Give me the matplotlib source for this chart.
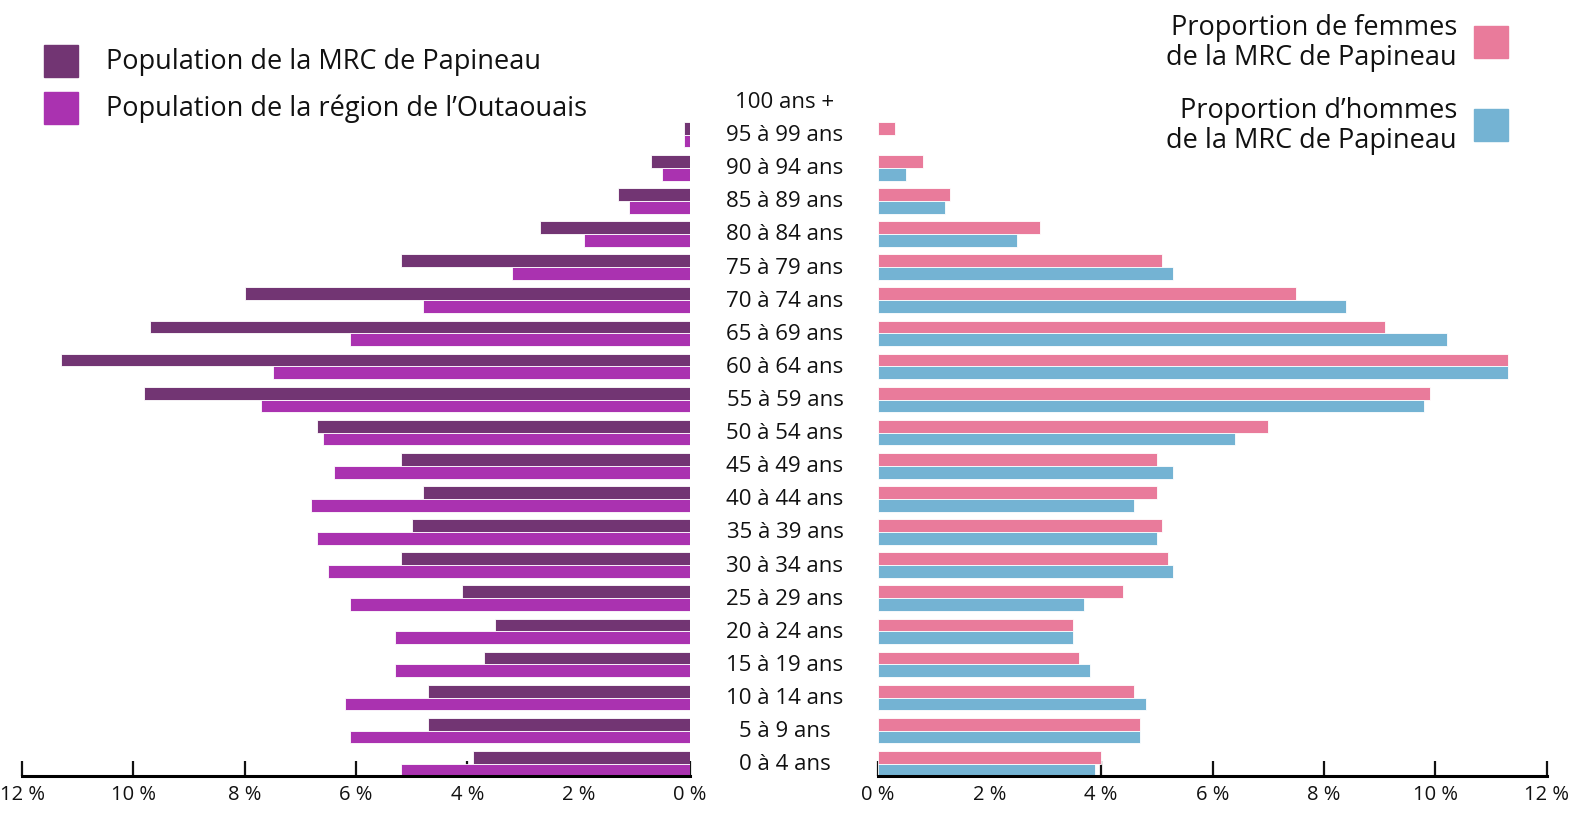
import numpy as np
import matplotlib
matplotlib.use("Agg")
import matplotlib.pyplot as plt
from matplotlib.transforms import blended_transform_factory
from matplotlib.patches import Rectangle

plt.rcParams['font.family'] = ['Open Sans', 'DejaVu Sans']

# age groups, from youngest to oldest
ages = ["0 à 4 ans", "5 à 9 ans", "10 à 14 ans", "15 à 19 ans", "20 à 24 ans",
        "25 à 29 ans", "30 à 34 ans", "35 à 39 ans", "40 à 44 ans", "45 à 49 ans",
        "50 à 54 ans", "55 à 59 ans", "60 à 64 ans", "65 à 69 ans", "70 à 74 ans",
        "75 à 79 ans", "80 à 84 ans", "85 à 89 ans", "90 à 94 ans", "95 à 99 ans",
        "100 ans +"]

# left panel (% of population)
mrc_pop = [3.9, 4.7, 4.7, 3.7, 3.5, 4.1, 5.2, 5.0, 4.8, 5.2,
           6.7, 9.8, 11.3, 9.7, 8.0, 5.2, 2.7, 1.3, 0.7, 0.1, 0.0]
outaouais_pop = [5.2, 6.1, 6.2, 5.3, 5.3, 6.1, 6.5, 6.7, 6.8, 6.4,
                 6.6, 7.7, 7.5, 6.1, 4.8, 3.2, 1.9, 1.1, 0.5, 0.1, 0.0]

# right panel (% by sex, MRC de Papineau)
femmes = [4.0, 4.7, 4.6, 3.6, 3.5, 4.4, 5.2, 5.1, 5.0, 5.0,
          7.0, 9.9, 11.3, 9.1, 7.5, 5.1, 2.9, 1.3, 0.8, 0.3, 0.0]
hommes = [3.9, 4.7, 4.8, 3.8, 3.5, 3.7, 5.3, 5.0, 4.6, 5.3,
          6.4, 9.8, 11.3, 10.2, 8.4, 5.3, 2.5, 1.2, 0.5, 0.0, 0.0]

tick_vals = [0, 2, 4, 6, 8, 10, 12]
tick_labels = [f"{v} %" for v in tick_vals]

c_mrc = "#723573"
c_out = "#aa32b0"
c_fem = "#e97b9b"
c_hom = "#74b3d3"

W, H = 1591, 820
fig = plt.figure(figsize=(W / 100, H / 100), dpi=100)

bottom = 1 - 777 / H
height = (777 - 86) / H
axL = fig.add_axes([22 / W, bottom, (690 - 22) / W, height])
axR = fig.add_axes([878 / W, bottom, (1547 - 878) / W, height])

y = np.arange(len(ages))
bh = 0.385

axL.barh(y + bh / 2, mrc_pop, height=bh, color=c_mrc, edgecolor="white", linewidth=0.6, zorder=3)
axL.barh(y - bh / 2, outaouais_pop, height=bh, color=c_out, edgecolor="white", linewidth=0.6, zorder=3)
axR.barh(y + bh / 2, femmes, height=bh, color=c_fem, edgecolor="white", linewidth=0.6, zorder=3)
axR.barh(y - bh / 2, hommes, height=bh, color=c_hom, edgecolor="white", linewidth=0.6, zorder=3)

axL.set_xlim(12, 0)
axR.set_xlim(0, 12)

for ax in (axL, axR):
    ax.set_ylim(-0.37, 20.5)
    ax.set_yticks([])
    for s in ("top", "left", "right"):
        ax.spines[s].set_visible(False)
    ax.spines["bottom"].set_linewidth(2.2)
    ax.spines["bottom"].set_zorder(4)
    ax.set_xticks(tick_vals)
    ax.set_xticklabels(tick_labels, fontsize=14.5)
    ax.tick_params(axis="x", direction="in", length=11, width=1.6, pad=6, colors="#111111")

# age labels in the middle
tr = blended_transform_factory(fig.transFigure, axL.transData)
for yi, lab in zip(y, ages):
    fig.text(785 / W, yi, lab, transform=tr, ha="center", va="center",
             fontsize=16, color="#111111")

# legend, left side
leg_left = [("Population de la MRC de Papineau", c_mrc, 62),
            ("Population de la région de l’Outaouais", c_out, 109)]
for lab, col, yc in leg_left:
    fig.patches.append(Rectangle((44 / W, 1 - (yc + 16) / H), 34 / W, 32 / H,
                                 transform=fig.transFigure, color=col))
    fig.text(106 / W, 1 - yc / H, lab, ha="left", va="center", fontsize=19.5, color="#111111")

# legend, right side
leg_right = [("Proportion de femmes\nde la MRC de Papineau", c_fem, 43),
             ("Proportion d’hommes\nde la MRC de Papineau", c_hom, 126)]
for lab, col, yc in leg_right:
    fig.patches.append(Rectangle((1474 / W, 1 - (yc + 16) / H), 34 / W, 32 / H,
                                 transform=fig.transFigure, color=col))
    fig.text(1457 / W, 1 - yc / H, lab, ha="right", va="center", multialignment="right",
             fontsize=19.5, color="#111111", linespacing=1.08)

fig.savefig("out.png", dpi=100)
